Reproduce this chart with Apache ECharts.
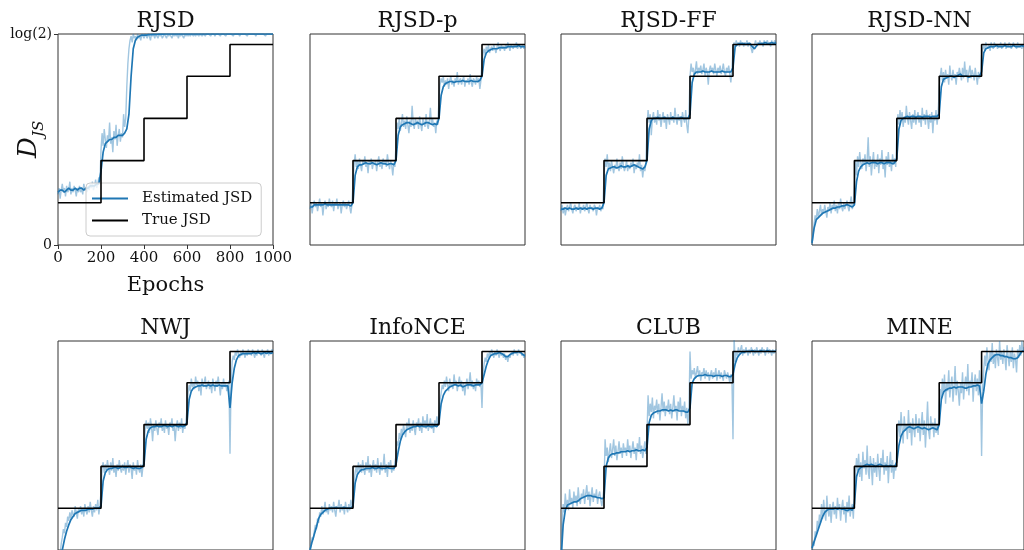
<!DOCTYPE html>
<html><head><meta charset="utf-8">
<script src="https://cdn.jsdelivr.net/npm/echarts@6/dist/echarts.min.js"></script>
<style>html,body{margin:0;padding:0;background:#fff}#c{width:1024px;height:550px}</style>
</head><body><div id="c"></div>
<script>
// ---------- data ----------
const methods = ['RJSD','RJSD-p','RJSD-FF','RJSD-NN','NWJ','InfoNCE','CLUB','MINE'];
const xTicks = [0,200,400,600,800,1000];
const yTickLabels = {0:'0', 1:'log(2)'};        // y in units of log(2)
const trueEpochs = [0,200,400,600,800,1000];
const trueJSD = [0.20,0.40,0.60,0.80,0.95,0.95];
const rawStep = 5;      // raw estimate every 5 epochs
const smoothStep = 10;  // smoothed estimate every 10 epochs

const rawRJSD = [
0.24,0.27,0.22,0.26,0.29,0.25,0.27,0.23,0.28,0.25,0.26,0.30,0.24,0.27,0.25,0.28,0.26,0.23,0.27,0.25,
0.28,0.25,0.27,0.24,0.29,0.26,0.27,0.25,0.28,0.26,0.29,0.27,0.30,0.26,0.28,0.31,0.27,0.29,0.32,0.30,
0.45,0.53,0.47,0.55,0.50,0.46,0.52,0.49,0.58,0.48,0.51,0.44,0.54,0.50,0.57,0.47,0.52,0.55,0.49,0.53,
0.51,0.62,0.56,0.60,0.75,0.86,0.93,0.97,0.99,0.96,1.00,0.98,0.99,0.97,1.00,0.98,0.99,0.97,1.00,0.99,
0.98,1.00,0.99,0.98,1.00,0.99,0.97,1.00,0.99,1.00,0.98,1.00,0.99,0.98,1.00,0.99,1.00,0.98,0.99,1.00,
0.99,0.98,1.00,0.99,1.00,0.99,0.98,1.00,0.99,1.00,0.99,1.00,0.98,1.00,0.99,1.00,0.99,0.98,1.00,0.99,
1.00,0.99,1.00,0.99,1.00,1.00,0.99,1.00,0.99,1.00,1.00,0.99,1.00,1.00,0.99,1.00,1.00,0.99,1.00,1.00,
1.00,1.00,0.99,1.00,1.00,1.00,0.99,1.00,1.00,1.00,1.00,0.99,1.00,1.00,1.00,1.00,0.99,1.00,1.00,1.00,
1.00,1.00,1.00,0.99,1.00,1.00,1.00,1.00,1.00,0.99,1.00,1.00,1.00,1.00,1.00,1.00,0.99,1.00,1.00,1.00,
1.00,1.00,1.00,1.00,0.99,1.00,1.00,1.00,1.00,1.00,1.00,1.00,1.00,0.99,1.00,1.00,1.00,1.00,1.00,1.00,1.00];
const smoothRJSD = [
0.25,0.26,0.26,0.25,0.26,0.27,0.26,0.26,0.27,0.26,0.27,0.27,0.26,0.27,0.27,0.28,0.28,0.28,0.29,0.29,
0.35,0.44,0.48,0.49,0.50,0.50,0.51,0.51,0.52,0.52,0.52,0.53,0.55,0.62,0.80,0.93,0.97,0.985,0.99,0.995,
0.995,0.995,0.997,0.997,0.998,0.998,0.998,0.999,0.999,0.999,1,1,1,1,1,1,1,1,1,1,
1,1,1,1,1,1,1,1,1,1,1,1,1,1,1,1,1,1,1,1,
1,1,1,1,1,1,1,1,1,1,1,1,1,1,1,1,1,1,1,1,1];

const rawRJSDp = [
0.17,0.20,0.15,0.19,0.21,0.18,0.20,0.16,0.19,0.22,0.18,0.20,0.14,0.19,0.21,0.17,0.20,0.18,0.22,0.19,
0.18,0.21,0.16,0.20,0.19,0.22,0.17,0.19,0.20,0.15,0.19,0.21,0.18,0.20,0.17,0.19,0.21,0.18,0.15,0.19,
0.30,0.38,0.43,0.37,0.40,0.36,0.41,0.38,0.35,0.40,0.38,0.42,0.37,0.39,0.34,0.40,0.38,0.41,0.36,0.39,
0.38,0.40,0.35,0.39,0.42,0.37,0.39,0.36,0.41,0.38,0.40,0.37,0.43,0.39,0.36,0.40,0.38,0.33,0.39,0.37,
0.48,0.58,0.55,0.60,0.54,0.58,0.62,0.56,0.59,0.55,0.61,0.57,0.53,0.59,0.56,0.66,0.58,0.55,0.60,0.57,
0.59,0.55,0.61,0.57,0.54,0.60,0.58,0.56,0.62,0.57,0.55,0.59,0.65,0.57,0.60,0.56,0.58,0.53,0.59,0.57,
0.70,0.76,0.79,0.77,0.80,0.75,0.78,0.76,0.79,0.74,0.78,0.80,0.76,0.78,0.75,0.79,0.77,0.82,0.76,0.78,
0.79,0.76,0.78,0.80,0.75,0.78,0.77,0.79,0.76,0.81,0.77,0.75,0.79,0.78,0.76,0.80,0.77,0.79,0.74,0.78,
0.87,0.91,0.93,0.90,0.94,0.92,0.95,0.91,0.93,0.94,0.92,0.95,0.93,0.91,0.94,0.96,0.93,0.92,0.95,0.93,
0.94,0.92,0.95,0.93,0.96,0.94,0.92,0.95,0.94,0.93,0.95,0.94,0.96,0.93,0.94,0.95,0.93,0.94,0.95,0.93,0.94];
const smoothRJSDp = [
0.18,0.18,0.19,0.19,0.19,0.19,0.19,0.195,0.19,0.19,0.19,0.19,0.19,0.19,0.19,0.19,0.19,0.19,0.19,0.185,
0.20,0.33,0.37,0.38,0.38,0.385,0.39,0.385,0.385,0.39,0.385,0.38,0.385,0.39,0.385,0.385,0.38,0.385,0.385,0.38,
0.40,0.52,0.56,0.57,0.575,0.58,0.58,0.575,0.57,0.575,0.58,0.575,0.57,0.575,0.58,0.58,0.575,0.57,0.575,0.57,
0.60,0.71,0.75,0.765,0.77,0.775,0.775,0.77,0.775,0.775,0.775,0.78,0.775,0.775,0.775,0.78,0.775,0.775,0.775,0.78,
0.80,0.88,0.91,0.92,0.925,0.93,0.93,0.93,0.935,0.935,0.935,0.935,0.94,0.94,0.94,0.94,0.94,0.945,0.94,0.94,0.94];

const rawRJSDFF = [
0.16,0.19,0.15,0.18,0.14,0.17,0.19,0.16,0.18,0.20,0.17,0.15,0.18,0.19,0.16,0.18,0.17,0.20,0.15,0.18,
0.17,0.19,0.16,0.18,0.20,0.17,0.15,0.19,0.17,0.18,0.16,0.19,0.18,0.14,0.18,0.17,0.19,0.16,0.18,0.17,
0.33,0.41,0.37,0.43,0.36,0.39,0.35,0.40,0.37,0.34,0.38,0.36,0.41,0.37,0.35,0.39,0.36,0.42,0.38,0.35,
0.37,0.40,0.35,0.38,0.36,0.39,0.37,0.41,0.34,0.38,0.36,0.39,0.37,0.43,0.35,0.38,0.32,0.37,0.35,0.39,
0.56,0.64,0.58,0.62,0.52,0.60,0.63,0.58,0.61,0.57,0.64,0.59,0.62,0.56,0.60,0.63,0.58,0.61,0.55,0.62,
0.60,0.57,0.63,0.59,0.61,0.58,0.65,0.60,0.57,0.62,0.59,0.61,0.56,0.63,0.60,0.58,0.64,0.57,0.53,0.61,
0.80,0.86,0.82,0.84,0.80,0.83,0.87,0.81,0.84,0.82,0.85,0.81,0.83,0.86,0.80,0.84,0.82,0.76,0.83,0.85,
0.82,0.84,0.81,0.86,0.83,0.80,0.84,0.82,0.85,0.81,0.83,0.86,0.82,0.80,0.84,0.82,0.85,0.81,0.77,0.83,
0.93,0.96,0.94,0.97,0.95,0.96,0.94,0.97,0.95,0.96,0.94,0.96,0.95,0.97,0.94,0.96,0.95,0.93,0.91,0.94,
0.95,0.97,0.94,0.96,0.95,0.97,0.95,0.96,0.94,0.97,0.95,0.96,0.97,0.95,0.96,0.94,0.97,0.95,0.96,0.97,0.95];
const smoothRJSDFF = [
0.17,0.17,0.175,0.17,0.175,0.17,0.17,0.175,0.17,0.175,0.17,0.175,0.17,0.175,0.175,0.17,0.175,0.175,0.17,0.175,
0.20,0.33,0.36,0.365,0.37,0.37,0.365,0.37,0.375,0.37,0.37,0.375,0.37,0.375,0.38,0.375,0.37,0.365,0.36,0.37,
0.40,0.55,0.59,0.60,0.60,0.605,0.60,0.60,0.605,0.60,0.60,0.60,0.605,0.60,0.60,0.60,0.605,0.60,0.60,0.60,
0.62,0.77,0.81,0.82,0.82,0.82,0.825,0.82,0.82,0.82,0.825,0.82,0.82,0.82,0.82,0.825,0.82,0.82,0.82,0.82,
0.84,0.94,0.95,0.955,0.955,0.955,0.95,0.955,0.955,0.94,0.93,0.945,0.955,0.955,0.955,0.96,0.955,0.955,0.96,0.955,0.96];

const rawRJSDNN = [
0.00,0.05,0.10,0.14,0.12,0.17,0.13,0.16,0.19,0.14,0.17,0.15,0.19,0.16,0.13,0.18,0.16,0.20,0.15,0.19,
0.17,0.21,0.16,0.19,0.15,0.20,0.17,0.22,0.18,0.16,0.20,0.17,0.19,0.21,0.18,0.16,0.20,0.23,0.17,0.19,
0.27,0.40,0.33,0.42,0.37,0.44,0.39,0.36,0.41,0.38,0.43,0.35,0.40,0.51,0.37,0.42,0.33,0.39,0.44,0.36,
0.40,0.37,0.43,0.34,0.41,0.38,0.45,0.36,0.40,0.32,0.42,0.38,0.44,0.37,0.40,0.35,0.43,0.38,0.41,0.37,
0.53,0.62,0.57,0.64,0.59,0.63,0.56,0.61,0.58,0.66,0.60,0.57,0.63,0.59,0.55,0.62,0.58,0.64,0.57,0.61,
0.63,0.58,0.61,0.56,0.65,0.59,0.62,0.57,0.64,0.60,0.55,0.62,0.58,0.63,0.53,0.61,0.59,0.64,0.57,0.62,
0.74,0.80,0.84,0.78,0.82,0.77,0.83,0.79,0.81,0.76,0.85,0.80,0.78,0.83,0.79,0.81,0.76,0.82,0.80,0.84,
0.81,0.78,0.84,0.79,0.87,0.80,0.83,0.77,0.82,0.85,0.79,0.83,0.81,0.78,0.84,0.80,0.76,0.82,0.79,0.81,
0.90,0.93,0.95,0.92,0.96,0.94,0.93,0.95,0.92,0.96,0.94,0.93,0.96,0.94,0.95,0.93,0.95,0.94,0.96,0.93,
0.95,0.94,0.96,0.93,0.95,0.94,0.96,0.95,0.93,0.94,0.96,0.94,0.95,0.93,0.96,0.94,0.95,0.94,0.93,0.95,0.94];
const smoothRJSDNN = [
0.01,0.08,0.12,0.13,0.14,0.15,0.155,0.16,0.165,0.17,0.175,0.175,0.18,0.18,0.185,0.185,0.19,0.19,0.185,0.18,
0.19,0.30,0.35,0.37,0.38,0.385,0.39,0.385,0.39,0.39,0.39,0.385,0.39,0.39,0.385,0.39,0.39,0.39,0.385,0.39,
0.41,0.55,0.59,0.60,0.605,0.61,0.605,0.61,0.61,0.605,0.61,0.61,0.605,0.61,0.61,0.61,0.605,0.61,0.61,0.61,
0.62,0.75,0.785,0.79,0.795,0.80,0.80,0.795,0.80,0.805,0.81,0.80,0.80,0.80,0.795,0.80,0.80,0.80,0.80,0.80,
0.82,0.91,0.93,0.935,0.94,0.94,0.94,0.945,0.94,0.94,0.94,0.945,0.94,0.94,0.94,0.945,0.94,0.94,0.94,0.945,0.94];

const rawNWJ = [
-0.15,-0.08,-0.02,0.03,0.06,0.10,0.08,0.13,0.11,0.16,0.14,0.18,0.15,0.19,0.17,0.16,0.21,0.18,0.15,0.20,
0.18,0.21,0.17,0.20,0.16,0.22,0.19,0.17,0.21,0.18,0.23,0.19,0.16,0.21,0.18,0.22,0.19,0.24,0.17,0.21,
0.28,0.39,0.42,0.37,0.41,0.38,0.43,0.39,0.36,0.42,0.38,0.44,0.37,0.40,0.35,0.41,0.38,0.43,0.39,0.37,
0.41,0.38,0.42,0.36,0.40,0.43,0.37,0.41,0.39,0.34,0.42,0.38,0.40,0.36,0.43,0.39,0.37,0.41,0.35,0.40,
0.50,0.57,0.62,0.58,0.61,0.56,0.63,0.59,0.52,0.60,0.57,0.62,0.58,0.55,0.61,0.59,0.63,0.57,0.60,0.56,
0.62,0.58,0.60,0.55,0.61,0.59,0.63,0.57,0.60,0.52,0.59,0.62,0.57,0.61,0.58,0.63,0.56,0.60,0.58,0.61,
0.68,0.75,0.79,0.76,0.82,0.78,0.80,0.77,0.83,0.79,0.81,0.76,0.80,0.74,0.82,0.78,0.80,0.83,0.77,0.79,
0.81,0.77,0.80,0.75,0.82,0.79,0.76,0.81,0.78,0.83,0.79,0.74,0.80,0.77,0.82,0.78,0.80,0.76,0.79,0.81,
0.46,0.80,0.90,0.93,0.91,0.95,0.93,0.96,0.94,0.92,0.95,0.93,0.96,0.94,0.92,0.95,0.93,0.96,0.94,0.95,
0.93,0.96,0.94,0.92,0.95,0.93,0.96,0.94,0.95,0.93,0.96,0.94,0.92,0.95,0.94,0.96,0.93,0.95,0.94,0.96,0.95];
const smoothNWJ = [
-0.10,-0.05,0.00,0.05,0.09,0.12,0.145,0.16,0.175,0.18,0.185,0.19,0.19,0.19,0.195,0.195,0.195,0.20,0.20,0.20,
0.21,0.33,0.37,0.385,0.39,0.39,0.395,0.395,0.39,0.395,0.40,0.395,0.395,0.40,0.395,0.39,0.395,0.39,0.39,0.395,
0.41,0.53,0.57,0.585,0.59,0.59,0.595,0.59,0.59,0.595,0.595,0.59,0.595,0.59,0.595,0.595,0.59,0.595,0.59,0.595,
0.61,0.72,0.76,0.775,0.78,0.785,0.785,0.79,0.785,0.785,0.79,0.785,0.79,0.785,0.785,0.79,0.785,0.785,0.785,0.785,
0.68,0.80,0.87,0.91,0.93,0.935,0.94,0.94,0.94,0.94,0.94,0.945,0.94,0.945,0.94,0.94,0.945,0.94,0.945,0.94,0.945];

const rawInfoNCE = [
-0.02,0.03,0.06,0.05,0.09,0.12,0.10,0.15,0.13,0.18,0.16,0.21,0.17,0.19,0.23,0.18,0.20,0.17,0.22,0.19,
0.21,0.18,0.23,0.19,0.16,0.21,0.20,0.24,0.18,0.22,0.19,0.21,0.17,0.23,0.20,0.18,0.22,0.19,0.24,0.20,
0.25,0.33,0.37,0.40,0.36,0.42,0.38,0.41,0.37,0.43,0.39,0.36,0.42,0.38,0.45,0.37,0.41,0.35,0.40,0.43,
0.38,0.41,0.37,0.44,0.39,0.36,0.42,0.38,0.40,0.46,0.37,0.41,0.35,0.42,0.39,0.43,0.37,0.40,0.38,0.42,
0.45,0.52,0.50,0.56,0.53,0.58,0.55,0.60,0.57,0.54,0.61,0.58,0.63,0.56,0.60,0.57,0.62,0.58,0.55,0.61,
0.59,0.63,0.57,0.61,0.56,0.64,0.59,0.62,0.58,0.65,0.57,0.60,0.63,0.58,0.61,0.56,0.62,0.59,0.64,0.60,
0.66,0.72,0.75,0.79,0.77,0.81,0.78,0.83,0.79,0.76,0.82,0.78,0.80,0.77,0.84,0.79,0.81,0.76,0.80,0.83,
0.78,0.81,0.76,0.80,0.74,0.79,0.82,0.77,0.80,0.85,0.78,0.81,0.77,0.80,0.76,0.82,0.79,0.81,0.78,0.80,
0.68,0.85,0.89,0.92,0.90,0.94,0.92,0.95,0.93,0.96,0.94,0.92,0.95,0.93,0.96,0.94,0.92,0.95,0.93,0.94,
0.92,0.94,0.91,0.93,0.90,0.93,0.92,0.94,0.95,0.93,0.96,0.94,0.95,0.93,0.96,0.94,0.95,0.93,0.94,0.92,0.93];
const smoothInfoNCE = [
0.00,0.04,0.075,0.11,0.15,0.17,0.18,0.19,0.195,0.20,0.20,0.20,0.205,0.20,0.20,0.20,0.205,0.20,0.20,0.20,
0.21,0.32,0.36,0.375,0.385,0.385,0.39,0.39,0.39,0.395,0.39,0.39,0.395,0.39,0.39,0.39,0.395,0.39,0.39,0.39,
0.41,0.47,0.52,0.55,0.565,0.575,0.58,0.585,0.59,0.59,0.595,0.59,0.595,0.59,0.59,0.595,0.59,0.59,0.595,0.59,
0.61,0.70,0.74,0.76,0.77,0.78,0.785,0.79,0.79,0.785,0.79,0.78,0.785,0.79,0.79,0.79,0.785,0.79,0.79,0.79,
0.80,0.84,0.88,0.91,0.93,0.935,0.94,0.94,0.945,0.94,0.935,0.925,0.925,0.935,0.94,0.945,0.945,0.95,0.945,0.935,0.93];

const rawCLUB = [
-0.10,0.10,0.22,0.18,0.27,0.20,0.24,0.19,0.29,0.22,0.25,0.20,0.28,0.23,0.26,0.21,0.30,0.24,0.22,0.27,
0.25,0.29,0.22,0.27,0.31,0.24,0.28,0.21,0.26,0.30,0.23,0.27,0.25,0.29,0.22,0.26,0.28,0.24,0.21,0.25,
0.30,0.53,0.45,0.49,0.42,0.47,0.51,0.44,0.48,0.53,0.45,0.50,0.43,0.47,0.52,0.46,0.49,0.44,0.51,0.47,
0.49,0.45,0.53,0.47,0.50,0.44,0.48,0.52,0.46,0.49,0.43,0.51,0.47,0.54,0.46,0.50,0.44,0.48,0.52,0.46,
0.56,0.74,0.64,0.70,0.66,0.73,0.63,0.69,0.67,0.72,0.65,0.70,0.62,0.68,0.75,0.66,0.71,0.64,0.69,0.67,
0.72,0.65,0.70,0.63,0.68,0.74,0.66,0.69,0.62,0.71,0.67,0.73,0.64,0.69,0.66,0.71,0.63,0.68,0.60,0.66,
0.95,0.82,0.86,0.84,0.87,0.82,0.85,0.88,0.83,0.86,0.81,0.85,0.84,0.87,0.82,0.86,0.83,0.85,0.81,0.84,
0.86,0.82,0.85,0.83,0.87,0.81,0.84,0.86,0.82,0.85,0.83,0.81,0.86,0.84,0.82,0.85,0.83,0.80,0.84,0.82,
0.53,1.02,0.90,0.95,0.93,0.97,0.94,0.96,0.98,0.93,0.96,0.94,0.97,0.95,0.93,0.96,0.94,0.97,0.95,0.93,
0.96,0.94,0.97,0.95,0.93,0.96,0.94,0.97,0.95,0.96,0.93,0.95,0.97,0.94,0.96,0.95,0.93,0.96,0.94,0.95,0.96];
const smoothCLUB = [
-0.05,0.12,0.19,0.215,0.22,0.225,0.23,0.23,0.235,0.245,0.25,0.255,0.26,0.26,0.26,0.255,0.255,0.25,0.25,0.245,
0.25,0.40,0.44,0.455,0.46,0.46,0.465,0.465,0.47,0.47,0.47,0.475,0.47,0.475,0.475,0.48,0.475,0.475,0.48,0.475,
0.49,0.61,0.645,0.655,0.66,0.665,0.665,0.67,0.67,0.67,0.665,0.67,0.665,0.67,0.67,0.665,0.665,0.665,0.66,0.66,
0.68,0.80,0.82,0.83,0.835,0.835,0.835,0.84,0.835,0.835,0.835,0.83,0.835,0.835,0.835,0.83,0.835,0.835,0.83,0.83,
0.84,0.89,0.92,0.935,0.945,0.945,0.95,0.95,0.95,0.955,0.95,0.95,0.95,0.955,0.95,0.95,0.955,0.95,0.95,0.95,0.95];

const rawMINE = [
-0.02,0.04,0.02,0.09,0.07,0.14,0.10,0.17,0.13,0.22,0.15,0.24,0.18,0.14,0.26,0.19,0.16,0.22,0.13,0.20,
0.23,0.17,0.21,0.15,0.25,0.19,0.22,0.14,0.20,0.24,0.17,0.21,0.13,0.23,0.18,0.26,0.16,0.20,0.22,0.15,
0.28,0.36,0.44,0.38,0.46,0.35,0.42,0.33,0.47,0.39,0.43,0.36,0.50,0.38,0.34,0.45,0.40,0.31,0.44,0.37,
0.42,0.35,0.46,0.39,0.33,0.44,0.40,0.48,0.36,0.42,0.38,0.45,0.32,0.41,0.47,0.37,0.43,0.34,0.40,0.38,
0.48,0.56,0.62,0.54,0.66,0.58,0.51,0.64,0.57,0.60,0.53,0.67,0.56,0.61,0.50,0.63,0.58,0.54,0.65,0.59,
0.56,0.63,0.52,0.60,0.66,0.55,0.62,0.49,0.59,0.71,0.57,0.53,0.64,0.58,0.61,0.54,0.63,0.56,0.60,0.55,
0.70,0.77,0.72,0.82,0.75,0.84,0.70,0.80,0.76,0.86,0.73,0.79,0.83,0.71,0.78,0.88,0.74,0.81,0.76,0.69,
0.80,0.75,0.85,0.72,0.79,0.83,0.76,0.89,0.74,0.81,0.78,0.85,0.71,0.80,0.84,0.76,0.82,0.74,0.86,0.79,
0.45,0.78,0.86,0.93,0.88,0.97,0.91,0.86,0.95,0.90,0.99,0.89,0.94,0.87,0.96,0.92,0.88,1.00,0.91,0.95,
0.89,0.96,0.92,0.86,0.98,0.93,0.88,0.95,0.90,0.97,0.87,0.94,0.91,0.85,0.96,0.92,0.98,0.93,1.00,0.95,0.97];
const smoothMINE = [
0.01,0.04,0.07,0.10,0.13,0.16,0.18,0.19,0.195,0.195,0.195,0.20,0.195,0.20,0.195,0.195,0.19,0.19,0.195,0.19,
0.22,0.35,0.385,0.395,0.40,0.405,0.41,0.405,0.41,0.405,0.40,0.405,0.41,0.405,0.40,0.405,0.40,0.405,0.40,0.40,
0.42,0.50,0.545,0.565,0.575,0.585,0.59,0.585,0.58,0.585,0.59,0.585,0.58,0.585,0.58,0.575,0.58,0.585,0.58,0.575,
0.60,0.72,0.755,0.765,0.77,0.775,0.775,0.78,0.775,0.78,0.78,0.78,0.775,0.775,0.78,0.78,0.785,0.785,0.79,0.785,
0.70,0.76,0.84,0.89,0.91,0.92,0.93,0.935,0.935,0.93,0.93,0.925,0.925,0.92,0.92,0.915,0.915,0.92,0.935,0.95,0.955];

const rawSeries = [rawRJSD, rawRJSDp, rawRJSDFF, rawRJSDNN, rawNWJ, rawInfoNCE, rawCLUB, rawMINE];
const smoothSeries = [smoothRJSD, smoothRJSDp, smoothRJSDFF, smoothRJSDNN, smoothNWJ, smoothInfoNCE, smoothCLUB, smoothMINE];

// ---------- layout / style ----------
const FONT = 'DejaVu Serif';
const BLUE = '#1f77b4';
const cols = [58, 310, 561, 812], rows = [34, 341], W = 215, H = 211;

const grid = [], xAxis = [], yAxis = [], series = [], title = [];
methods.forEach((m, i) => {
  const L = cols[i % 4], T = rows[Math.floor(i / 4)];
  const first = i === 0;
  grid.push({left: L, top: T, width: W, height: H, show: true, borderColor: '#333', borderWidth: 1, backgroundColor: 'rgba(0,0,0,0)'});
  xAxis.push({
    gridIndex: i, type: 'value', min: xTicks[0], max: xTicks[xTicks.length - 1], interval: 200,
    axisLine: {show: false}, splitLine: {show: false},
    axisTick: {show: first, length: 4, lineStyle: {color: '#333'}},
    axisLabel: {show: first, formatter: v => String(v), fontFamily: FONT, fontSize: 15, color: '#111', margin: 6},
    name: first ? 'Epochs' : '', nameLocation: 'middle', nameGap: 30,
    nameTextStyle: {fontFamily: FONT, fontSize: 21, color: '#111'}
  });
  yAxis.push({
    gridIndex: i, type: 'value', min: 0, max: 1, interval: 1,
    axisLine: {show: false}, splitLine: {show: false},
    axisTick: {show: first, length: 4, lineStyle: {color: '#333'}},
    axisLabel: {show: first, formatter: v => yTickLabels[v], fontFamily: FONT, fontSize: 14, color: '#111', margin: 6}
  });
  title.push({text: m, left: L + W / 2, top: T - 24, textAlign: 'center', padding: 0,
    textStyle: {fontFamily: FONT, fontSize: 22, fontWeight: 'normal', color: '#111'}});
  series.push({
    type: 'line', name: 'raw', xAxisIndex: i, yAxisIndex: i, symbol: 'none', silent: true, z: 2,
    data: rawSeries[i].map((v, k) => [k * rawStep, v]),
    lineStyle: {color: BLUE, width: 1.4, opacity: 0.42}
  });
  series.push({
    type: 'line', name: 'Estimated JSD', xAxisIndex: i, yAxisIndex: i, symbol: 'none', silent: true, z: 3,
    data: smoothSeries[i].map((v, k) => [k * smoothStep, v]),
    itemStyle: {color: BLUE}, lineStyle: {color: BLUE, width: 1.7}
  });
  series.push({
    type: 'line', name: 'True JSD', xAxisIndex: i, yAxisIndex: i, symbol: 'none', silent: true, z: 4, step: 'end',
    data: trueEpochs.map((e, k) => [e, trueJSD[k]]),
    itemStyle: {color: '#000'}, lineStyle: {color: '#000', width: 1.6}
  });
});

const chart = echarts.init(document.getElementById('c'), null, {renderer: 'canvas'});
chart.setOption({
  animation: false,
  backgroundColor: '#fff',
  title, grid, xAxis, yAxis, series,
  legend: {
    data: ['Estimated JSD', 'True JSD'], orient: 'vertical', left: 86, top: 183,
    padding: [8, 9, 8, 6], itemGap: 7, itemWidth: 36, itemHeight: 2, icon: 'rect',
    backgroundColor: 'rgba(255,255,255,0.8)', borderColor: '#ccc', borderWidth: 1, borderRadius: 4,
    textStyle: {fontFamily: FONT, fontSize: 15, color: '#111', padding: [0, 0, 0, 9]},
    selectedMode: false
  },
  graphic: [{
    type: 'group', x: 42, y: 158, rotation: Math.PI / 2,
    children: [
      {type: 'text', x: 0, y: 0, style: {text: 'D', font: 'italic 26px "DejaVu Serif"', fill: '#111', textAlign: 'left', textVerticalAlign: 'bottom'}},
      {type: 'text', x: 21, y: 5, style: {text: 'JS', font: 'italic 15px "DejaVu Serif"', fill: '#111', textAlign: 'left', textVerticalAlign: 'bottom'}}
    ]
  }]
});
</script>
</body></html>
